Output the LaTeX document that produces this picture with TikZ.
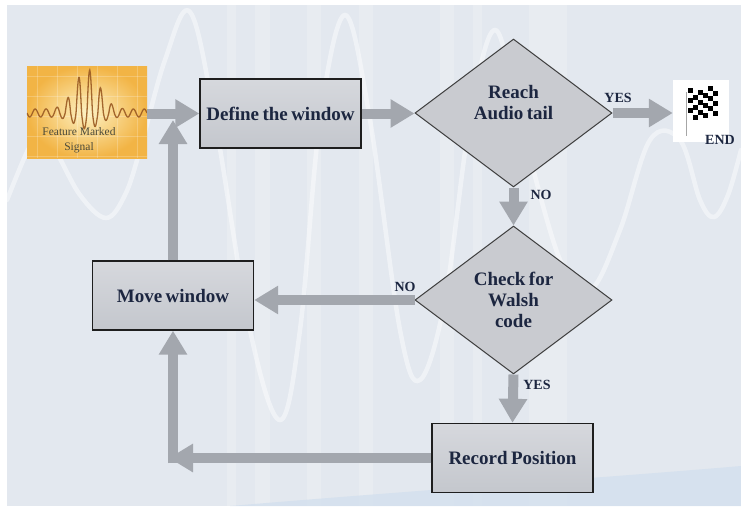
\documentclass[tikz,border=0pt]{standalone}
\usepackage{fontspec}
\setmainfont{Liberation Serif}
\usetikzlibrary{arrows.meta,shapes.geometric,calc}

\definecolor{ink}{HTML}{1C2640}
\definecolor{flowgray}{HTML}{A3A7AE}
\definecolor{paper}{HTML}{E3E8EF}
\definecolor{boxtop}{HTML}{D6D8DD}
\definecolor{boxbot}{HTML}{C4C7CD}
\definecolor{boxline}{HTML}{1E1E1E}
\definecolor{diafill}{HTML}{C9CBD0}
\definecolor{diaedge}{HTML}{3C3C3C}
\definecolor{sigin}{HTML}{FDF2C4}
\definecolor{sigout}{HTML}{F2B445}
\definecolor{sigwave}{HTML}{9A5A22}
\definecolor{sigtext}{HTML}{4B4A3A}
\definecolor{seablue}{HTML}{D3E0EE}

\newcommand\boxfont{\fontsize{19pt}{21pt}\selectfont\bfseries\spaceskip=0.18em\relax}
\newcommand\answerfont{\fontsize{14pt}{15pt}\selectfont\bfseries}
\newcommand\sigfont{\fontsize{11.5pt}{15pt}\selectfont}

\begin{document}
\begin{tikzpicture}[x=1pt,y=-1pt,
  stepbox/.style={rectangle, draw=boxline, line width=1.4pt,
    top color=boxtop, bottom color=boxbot,
    minimum width=161pt, minimum height=69pt, inner sep=0pt,
    font=\boxfont, text=ink},
  decision/.style={diamond, draw=diaedge, line width=1pt, fill=diafill,
    minimum width=197pt, minimum height=148pt, inner sep=0pt,
    align=center, font=\boxfont, text=ink},
  flow/.style={draw=flowgray, line width=10pt,
    -{Triangle[width=27pt,length=24pt]}},
  answer/.style={font=\answerfont, text=ink, inner sep=0pt}]

% canvas and backdrop
\useasboundingbox (0,0) rectangle (741,506);
\fill[white] (0,0) rectangle (741,506);
\fill[paper] (7,5) rectangle (741,506);
\foreach \sx/\sw in {227/9,255/15,307/14,359/14,440/14,473/9,529/38}
  \fill[white, opacity=0.18] (\sx,5) rectangle ++(\sw,501);
\fill[seablue, opacity=0.8] (230,506) .. controls (420,490) and (600,478) .. (741,466)
  -- (741,506) -- cycle;
\draw[white, opacity=0.45, line width=4.5pt, line cap=round]
  plot[smooth, tension=0.6] coordinates {
  (7,200) (28,150) (40,136) (55,150) (80,195) (106,218) (125,195) (140,150)
  (165,60) (190,12) (215,120) (250,330) (280,420) (300,330) (320,120)
  (345,15) (370,120) (400,330) (420,380) (445,300) (470,120) (495,30)
  (520,120) (560,260) (590,290) (620,230) (650,140) (680,140) (700,200)
  (714,217) (728,195) (741,150)};

% feature marked signal picture
\node[rectangle, minimum width=120pt, minimum height=92pt, inner sep=0pt,
  inner color=sigin, outer color=sigout] (sig) at (87,112) {};
\begin{scope}
  \clip (sig.south west) rectangle (sig.north east);
  \foreach \gx in {37,57,77,97,117,137}
    \draw[white, opacity=0.22, line width=0.6pt] (\gx,66) -- (\gx,158);
  \foreach \gy in {76,96,116,136,156}
    \draw[white, opacity=0.22, line width=0.6pt] (27,\gy) -- (147,\gy);
  \draw[sigwave, line width=1.3pt, opacity=0.9]
    plot[domain=-60:60, samples=240]
    ({87+\x}, {113 - 4*sin(33*\x)
       - 40*exp(-(\x/17)^2)*max(sin(33*\x),0)
       - 12*exp(-(\x/17)^2)*min(sin(33*\x),0)});
\end{scope}
\node[font=\sigfont, text=sigtext, align=center, inner sep=0pt] (sigcap)
  at (79,140) {Feature Marked\\Signal};

% process steps
\node[stepbox] (def) at (280.5,113.5) {Define the window};
\node[stepbox] (move) at (173,295.5) {Move window};
\node[stepbox] (rec) at (512.5,458) {Record Position};

% decisions
\node[decision,
  label={[font=\boxfont, text=ink, align=center, yshift=10pt]center:Reach\\Audio tail}]
  (d1) at (513.5,113) {};
\node[decision] (d2) at (513.5,300) {Check for\\Walsh\\code};

% finish flag
\node[rectangle, fill=white, minimum width=56pt, minimum height=62pt,
  inner sep=0pt] (fin) at (701,111) {};
\draw[gray!70, line width=0.7pt] (686,92) -- (686,136);
\foreach \i in {0,...,5}
  \foreach \j in {0,...,5} {
    \pgfmathtruncatemacro{\cellpar}{mod(\i+\j,2)}
    \ifnum\cellpar=0
      \fill[black] ({688+\i*5},{88+\j*5+2.2*sin(\i*60)}) rectangle ++(4.6,4.6);
    \fi
  }
\node[answer] (endtxt) at (720,140) {END};

% connectors
\coordinate (merge) at (172,120);
\coordinate (bend) at (169,458);
\draw[flow] (def.west -| sig.east) -- (def.west);
\draw[flow] (def.east) -- (def.east -| d1.west);
\draw[flow] (d1.east) -- (d1.east -| fin.west);
\draw[flow] (d1.south) -- (d2.north);
\draw[flow] (d2.west) -- (d2.west -| move.east);
\draw[flow] (d2.south) -- (rec.north);
\draw[flow] (rec.west) -- (bend);
\draw[flow, shorten <=-5pt] (bend -| move.south) -- (move.south);
\draw[flow] (move.north) -- (move.north |- merge);

% branch labels
\node[answer] (yes1) at (618,98) {YES};
\node[answer] (no1) at (541,195) {NO};
\node[answer] (no2) at (405,287) {NO};
\node[answer] (yes2) at (537,385) {YES};
\end{tikzpicture}
\end{document}
